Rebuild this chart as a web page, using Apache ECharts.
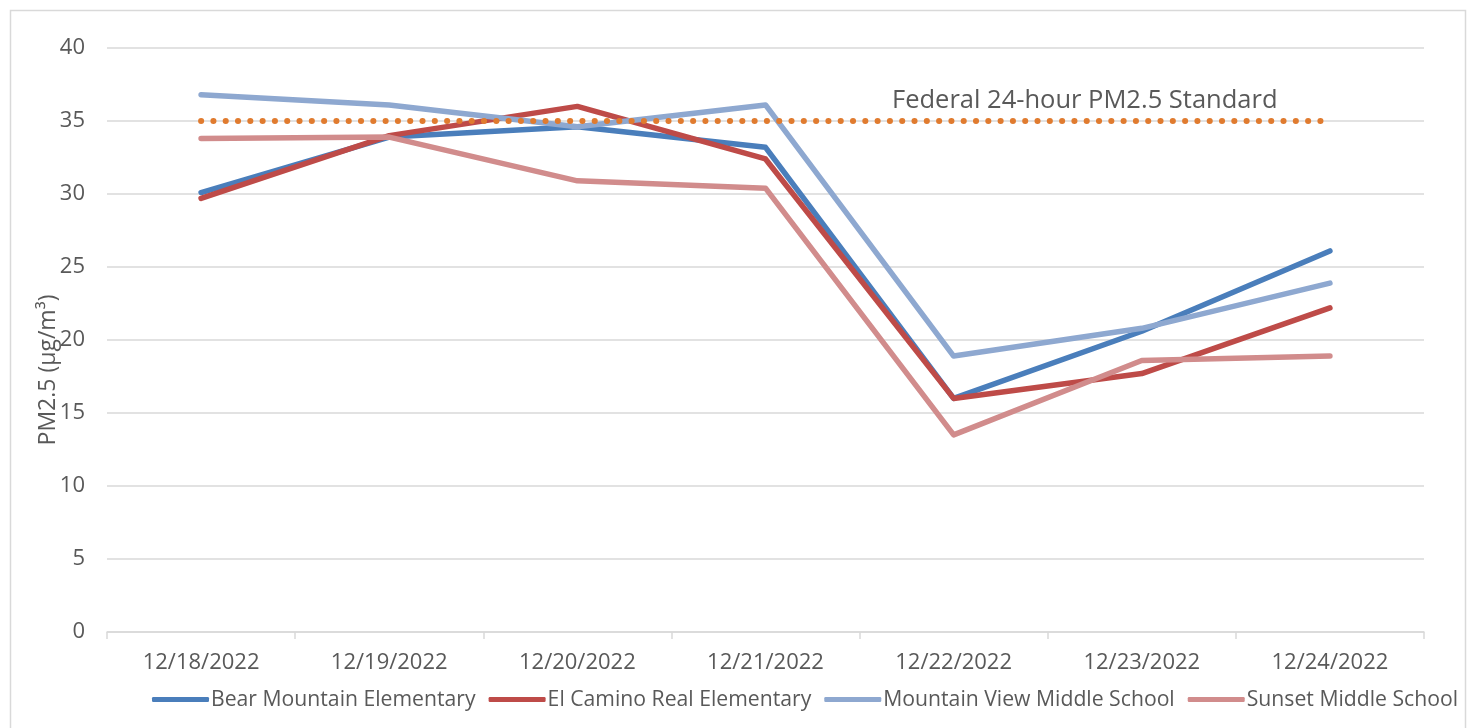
<!DOCTYPE html>
<html>
<head>
<meta charset="utf-8">
<script src="https://cdn.jsdelivr.net/npm/echarts@6/dist/echarts.min.js"></script>
<style>
  html, body { margin: 0; padding: 0; background: #fff; }
  #main { width: 1475px; height: 728px; }
</style>
</head>
<body>
<div id="main"></div>
<script>
var dates = ['12/18/2022', '12/19/2022', '12/20/2022', '12/21/2022', '12/22/2022', '12/23/2022', '12/24/2022'];
var bearMountain = [30.1, 33.9, 34.6, 33.2, 16.0, 20.6, 26.1];
var elCamino = [29.7, 34.0, 36.0, 32.4, 16.0, 17.7, 22.2];
var mountainView = [36.8, 36.1, 34.6, 36.1, 18.9, 20.8, 23.9];
var sunset = [33.8, 33.9, 30.9, 30.4, 13.5, 18.6, 18.9];
var standard = [35, 35, 35, 35, 35, 35, 35];

var font = 'Open Sans';
var chart = echarts.init(document.getElementById('main'));

function school(name, data, color) {
  return {
    name: name,
    type: 'line',
    data: data,
    symbol: 'none',
    lineStyle: { width: 5.5, color: color, cap: 'round', join: 'round' },
    itemStyle: { color: color }
  };
}

var option = {
  backgroundColor: '#fff',
  textStyle: { fontFamily: font },
  grid: { left: 107, right: 51, top: 48, bottom: 96 },
  legend: {
    left: 147,
    top: 684,
    icon: 'roundRect',
    itemWidth: 57,
    itemHeight: 5,
    itemGap: 13,
    data: ['Bear Mountain Elementary', 'El Camino Real Elementary', 'Mountain View Middle School', 'Sunset Middle School'],
    textStyle: { fontSize: 21.2, color: '#595959', fontFamily: font, padding: [0, 0, 0, -3] }
  },
  graphic: [
    {
      type: 'rect',
      shape: { x: 10.5, y: 10.5, width: 1455, height: 730 },
      style: { fill: 'none', stroke: '#d9d9d9', lineWidth: 1.5 },
      silent: true
    },
    {
      type: 'text',
      left: 892,
      top: 88,
      style: { text: 'Federal 24-hour PM2.5 Standard', fontSize: 25.5, fill: '#595959', fontFamily: font }
    },
    {
      type: 'text',
      x: 48,
      y: 370,
      rotation: Math.PI / 2,
      style: {
        text: 'PM2.5 (μg/m³)', fontSize: 23, fill: '#595959', fontFamily: font,
        align: 'center', verticalAlign: 'middle'
      }
    }
  ],
  xAxis: {
    type: 'category',
    data: dates,
    boundaryGap: true,
    axisLine: { lineStyle: { color: '#d9d9d9', width: 1.5 } },
    axisTick: { show: true, length: 7, lineStyle: { color: '#d9d9d9', width: 1.5 } },
    axisLabel: { fontSize: 22, color: '#595959', margin: 20, fontFamily: font }
  },
  yAxis: {
    type: 'value',
    min: 0,
    max: 40,
    interval: 5,
    axisLine: { show: false },
    axisTick: { show: false },
    axisLabel: { fontSize: 22, color: '#595959', margin: 22, fontFamily: font },
    splitLine: { lineStyle: { color: '#d9d9d9', width: 1.5 } }
  },
  series: [
    school('Bear Mountain Elementary', bearMountain, '#4a7ebb'),
    school('El Camino Real Elementary', elCamino, '#be4b48'),
    school('Mountain View Middle School', mountainView, '#8ea8d0'),
    school('Sunset Middle School', sunset, '#d18c8c'),
    {
      name: 'Federal 24-hour PM2.5 Standard',
      type: 'line',
      data: standard,
      symbol: 'none',
      lineStyle: { width: 6, color: '#e07b2f', type: [0.1, 12.2], cap: 'round' }
    }
  ]
};

chart.setOption(option);
</script>
</body>
</html>
